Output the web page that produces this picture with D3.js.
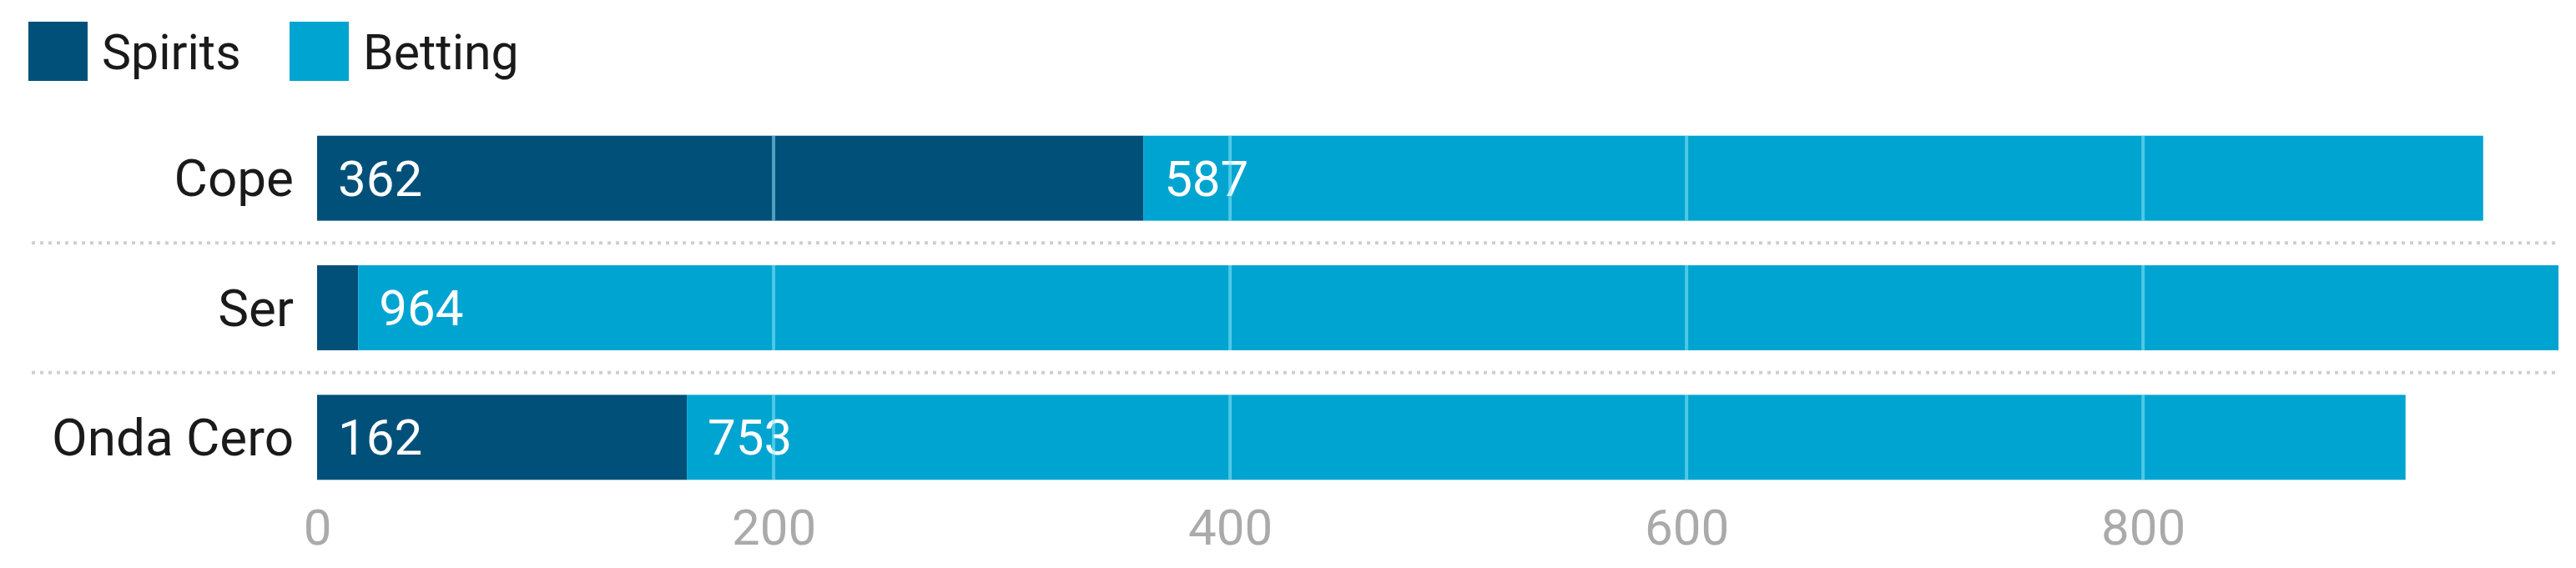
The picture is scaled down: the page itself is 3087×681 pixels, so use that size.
<!DOCTYPE html>
<html>
<head>
<meta charset="utf-8">
<script src="https://cdn.jsdelivr.net/npm/d3@7"></script>
<style>
  body { margin: 0; background: #fff; }
  svg { display: block; font-family: Roboto, "Noto Sans", sans-serif; }
</style>
</head>
<body>
<div id="chart"></div>
<script>
// data
var stations = ['Cope', 'Ser', 'Onda Cero'];
var spirits = [362, 18, 162];
var betting = [587, 964, 753];
var seriesNames = ['Spirits', 'Betting'];
var seriesColors = ['#00507a', '#00a4d1'];
var xTicks = [0, 200, 400, 600, 800];

var width = 3087, height = 681;

var svg = d3.select('#chart').append('svg')
    .attr('width', width)
    .attr('height', height);

// build table for stack
var rows = stations.map(function(s, i) {
  return { station: s, Spirits: spirits[i], Betting: betting[i] };
});
var stacked = d3.stack().keys(seriesNames)(rows);

var x = d3.scaleLinear()
    .domain([0, d3.max(rows, function(d) { return d.Spirits + d.Betting; })])
    .range([380, 3066]);

var y = d3.scaleBand()
    .domain(stations)
    .range([136, 602])
    .paddingInner(0.344)
    .paddingOuter(0.172);

var color = d3.scaleOrdinal().domain(seriesNames).range(seriesColors);

// dotted separators between rows
var sepY = stations.slice(1).map(function(s) {
  return y(s) - y.step() * y.paddingInner() / 2;
});
svg.append('g').selectAll('line')
    .data(sepY).enter()
  .append('line')
    .attr('x1', 38)
    .attr('x2', x.range()[1])
    .attr('y1', function(d) { return d; })
    .attr('y2', function(d) { return d; })
    .attr('stroke', '#cfcfcf')
    .attr('stroke-width', 4)
    .attr('stroke-dasharray', '4,6');

// bars
var layer = svg.append('g').selectAll('g')
    .data(stacked).enter()
  .append('g')
    .attr('fill', function(d) { return color(d.key); });

layer.selectAll('rect')
    .data(function(d) { return d; }).enter()
  .append('rect')
    .attr('x', function(d) { return x(d[0]); })
    .attr('y', function(d) { return y(d.data.station); })
    .attr('width', function(d) { return x(d[1]) - x(d[0]); })
    .attr('height', y.bandwidth());

// grid lines over the bars only
var grid = svg.append('g');
rows.forEach(function(r) {
  var end = r.Spirits + r.Betting;
  grid.selectAll(null)
      .data(xTicks.filter(function(t) { return t > 0 && t < end; })).enter()
    .append('line')
      .attr('x1', function(t) { return x(t); })
      .attr('x2', function(t) { return x(t); })
      .attr('y1', y(r.station))
      .attr('y2', y(r.station) + y.bandwidth())
      .attr('stroke', '#8ce6f8')
      .attr('stroke-opacity', 0.55)
      .attr('stroke-width', 4);
});

// value labels (skip tiny segments)
layer.selectAll('text')
    .data(function(d) { return d; }).enter()
  .filter(function(d) { return x(d[1]) - x(d[0]) > 120; })
  .append('text')
    .attr('x', function(d) { return x(d[0]) + 25; })
    .attr('y', function(d) { return y(d.data.station) + y.bandwidth() / 2; })
    .attr('dy', '0.35em')
    .attr('fill', '#fff')
    .attr('font-size', 60)
    .text(function(d) { return d[1] - d[0]; });

// category labels
svg.append('g').selectAll('text')
    .data(stations).enter()
  .append('text')
    .attr('x', 352)
    .attr('y', function(d) { return y(d) + y.bandwidth() / 2; })
    .attr('dy', '0.35em')
    .attr('text-anchor', 'end')
    .attr('fill', '#1a1a1a')
    .attr('font-size', 62)
    .text(function(d) { return d; });

// x axis
var axis = svg.append('g')
    .attr('transform', 'translate(0,632)')
    .call(d3.axisBottom(x).tickValues(xTicks).tickSize(0).tickPadding(0));
axis.select('.domain').remove();
axis.selectAll('text')
    .attr('dy', '0.35em')
    .attr('fill', '#aaaaaa')
    .attr('font-size', 60)
    .attr('font-family', 'Roboto, sans-serif');

// legend
var legendX = [34, 347];
var legend = svg.append('g').selectAll('g')
    .data(seriesNames).enter()
  .append('g')
    .attr('transform', function(d, i) { return 'translate(' + legendX[i] + ',26)'; });
legend.append('rect')
    .attr('width', 71)
    .attr('height', 71)
    .attr('fill', function(d) { return color(d); });
legend.append('text')
    .attr('x', 88)
    .attr('y', 36)
    .attr('dy', '0.35em')
    .attr('fill', '#1a1a1a')
    .attr('font-size', 59)
    .text(function(d) { return d; });
</script>
</body>
</html>
